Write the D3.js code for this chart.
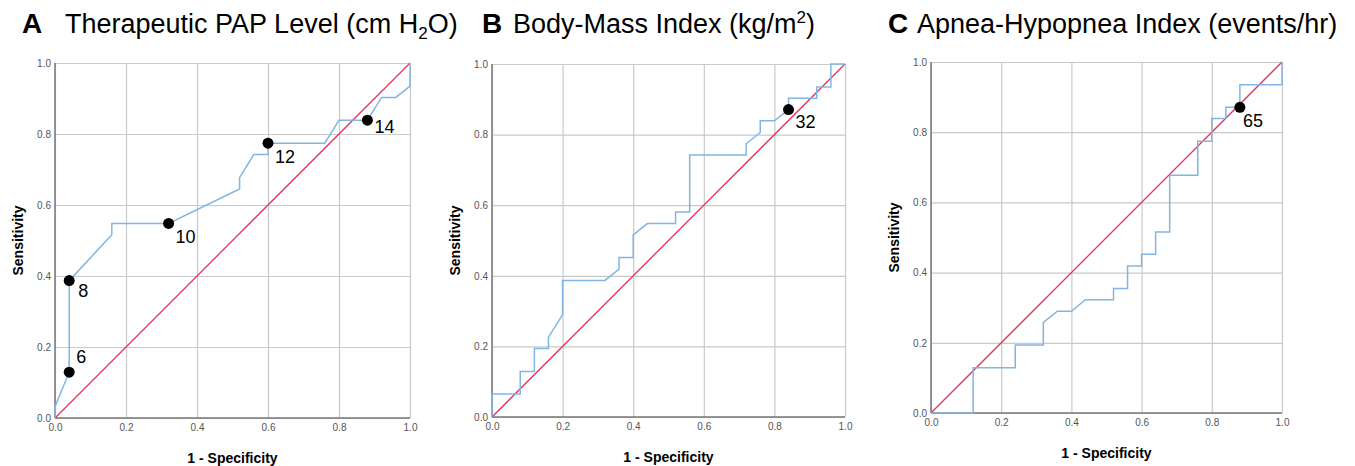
<html>
<script src="https://cdn.jsdelivr.net/npm/d3@7/dist/d3.min.js"></script>
<style>
body { margin: 0; background: #fff; }
text { font-family: "Liberation Sans", Arial, sans-serif; }
</style>
<body>
<svg id="chart" width="1355" height="466"></svg>
<script>
var ticks = [0, 0.2, 0.4, 0.6, 0.8, 1.0];

// A - therapeutic PAP level
var papFpr = [0, 0, 0.04, 0.04, 0.16, 0.16, 0.32, 0.52, 0.52, 0.56, 0.60, 0.60, 0.76, 0.80, 0.88, 0.92, 0.96, 1.0, 1.0];
var papTpr = [0, 0.032, 0.129, 0.387, 0.516, 0.548, 0.548, 0.645, 0.677, 0.742, 0.742, 0.774, 0.774, 0.839, 0.839, 0.903, 0.903, 0.935, 1.0];
var papCutFpr = [0.04, 0.04, 0.32, 0.60, 0.88];
var papCutTpr = [0.129, 0.387, 0.548, 0.774, 0.839];
var papCutLabels = ["6", "8", "10", "12", "14"];

// B - body-mass index
var bmiFpr = [0, 0, 0.08, 0.08, 0.12, 0.12, 0.16, 0.16, 0.20, 0.20, 0.32, 0.36, 0.36, 0.40, 0.40, 0.44, 0.52, 0.52, 0.56, 0.56, 0.72, 0.72, 0.76, 0.76, 0.80, 0.84, 0.84, 0.92, 0.92, 0.96, 0.96, 1.0];
var bmiTpr = [0, 0.065, 0.065, 0.129, 0.129, 0.194, 0.194, 0.226, 0.290, 0.387, 0.387, 0.419, 0.452, 0.452, 0.516, 0.548, 0.548, 0.581, 0.581, 0.742, 0.742, 0.774, 0.806, 0.839, 0.839, 0.871, 0.903, 0.903, 0.935, 0.935, 1.0, 1.0];
var bmiCutFpr = [0.84];
var bmiCutTpr = [0.871];
var bmiCutLabels = ["32"];

// C - apnea-hypopnea index
var ahiFpr = [0, 0.12, 0.12, 0.24, 0.24, 0.32, 0.32, 0.36, 0.40, 0.44, 0.52, 0.52, 0.56, 0.56, 0.60, 0.60, 0.64, 0.64, 0.68, 0.68, 0.76, 0.76, 0.80, 0.80, 0.84, 0.84, 0.88, 0.88, 1.0, 1.0];
var ahiTpr = [0, 0, 0.129, 0.129, 0.194, 0.194, 0.258, 0.290, 0.290, 0.323, 0.323, 0.355, 0.355, 0.419, 0.419, 0.452, 0.452, 0.516, 0.516, 0.677, 0.677, 0.774, 0.774, 0.839, 0.839, 0.871, 0.871, 0.935, 0.935, 1.0];
var ahiCutFpr = [0.88];
var ahiCutTpr = [0.871];
var ahiCutLabels = ["65"];

var panels = [
  {letter: "A", title: ["Therapeutic PAP Level (cm H", "2", "O)"], script: "sub",
   fpr: papFpr, tpr: papTpr, cutFpr: papCutFpr, cutTpr: papCutTpr, cutLabels: papCutLabels,
   left: 55, top: 63, size: 355, letterX: 22, titleX: 65,
   labelPos: [[7, -14], [9, 12], [7, 15], [7, 15], [7, 8]]},
  {letter: "B", title: ["Body-Mass Index (kg/m", "2", ")"], script: "sup",
   fpr: bmiFpr, tpr: bmiTpr, cutFpr: bmiCutFpr, cutTpr: bmiCutTpr, cutLabels: bmiCutLabels,
   left: 492, top: 64, size: 353, letterX: 482, titleX: 513,
   labelPos: [[7, 14]]},
  {letter: "C", title: ["Apnea-Hypopnea Index (events/hr)", "", ""], script: "none",
   fpr: ahiFpr, tpr: ahiTpr, cutFpr: ahiCutFpr, cutTpr: ahiCutTpr, cutLabels: ahiCutLabels,
   left: 931, top: 62, size: 351, letterX: 888, titleX: 917,
   labelPos: [[3, 15]]}
];

var svg = d3.select("#chart");

panels.forEach(function(p) {
  var x = d3.scaleLinear().domain([0, 1]).range([p.left, p.left + p.size]);
  var y = d3.scaleLinear().domain([0, 1]).range([p.top + p.size, p.top]);
  var g = svg.append("g");

  // title
  g.append("text").attr("x", p.letterX).attr("y", 33)
    .style("font-size", "28px").style("font-weight", "bold").text(p.letter);
  var t = g.append("text").attr("x", p.titleX).attr("y", 33).style("font-size", "27px");
  t.append("tspan").text(p.title[0]);
  if (p.script == "sub") {
    t.append("tspan").attr("dy", 6).style("font-size", "17px").text(p.title[1]);
    t.append("tspan").attr("dy", -6).text(p.title[2]);
  } else if (p.script == "sup") {
    t.append("tspan").attr("dy", -10).style("font-size", "17px").text(p.title[1]);
    t.append("tspan").attr("dy", 10).text(p.title[2]);
  }

  // grid + axes
  var xAxis = g.append("g").attr("transform", "translate(0," + (p.top + p.size) + ")")
    .call(d3.axisBottom(x).tickValues(ticks).tickFormat(d3.format(".1f")).tickSize(-p.size).tickPadding(6));
  var yAxis = g.append("g").attr("transform", "translate(" + p.left + ",0)")
    .call(d3.axisLeft(y).tickValues(ticks).tickFormat(d3.format(".1f")).tickSize(-p.size).tickPadding(4));
  [xAxis, yAxis].forEach(function(a) {
    a.select(".domain").remove();
    a.selectAll(".tick line").attr("stroke", "#c9c9c9").attr("stroke-width", 1.2);
    a.selectAll(".tick text").attr("fill", "#555").style("font-size", "10px")
      .style("font-family", "'Liberation Sans', Arial, sans-serif");
  });
  g.append("line").attr("x1", x(0)).attr("x2", x(1)).attr("y1", y(0)).attr("y2", y(0))
    .attr("stroke", "#777").attr("stroke-width", 1.5);
  g.append("line").attr("x1", x(0)).attr("x2", x(0)).attr("y1", y(0)).attr("y2", y(1))
    .attr("stroke", "#777").attr("stroke-width", 1.5);

  // axis titles
  g.append("text").attr("x", x(0.5)).attr("y", p.top + p.size + 45)
    .attr("text-anchor", "middle").style("font-size", "14px").style("font-weight", "bold")
    .text("1 - Specificity");
  g.append("text").attr("transform", "translate(" + (p.left - 32) + "," + y(0.5) + ") rotate(-90)")
    .attr("text-anchor", "middle").style("font-size", "14px").style("font-weight", "bold")
    .text("Sensitivity");

  // reference diagonal
  g.append("line").attr("x1", x(0)).attr("y1", y(0)).attr("x2", x(1)).attr("y2", y(1))
    .attr("stroke", "#e0345f").attr("stroke-width", 1.3);

  // roc curve
  var pts = p.fpr.map(function(d, i) { return [d, p.tpr[i]]; });
  var line = d3.line().x(function(d) { return x(d[0]); }).y(function(d) { return y(d[1]); });
  g.append("path").datum(pts).attr("d", line)
    .attr("fill", "none").attr("stroke", "#82b6e2").attr("stroke-width", 1.5);

  // cut-off points
  p.cutFpr.forEach(function(d, i) {
    g.append("circle").attr("cx", x(d)).attr("cy", y(p.cutTpr[i])).attr("r", 5.5).attr("fill", "#000");
    g.append("text").attr("x", x(d) + p.labelPos[i][0]).attr("y", y(p.cutTpr[i]) + p.labelPos[i][1])
      .attr("dominant-baseline", "middle").style("font-size", "18px").text(p.cutLabels[i]);
  });
});
</script>
</body>
</html>
